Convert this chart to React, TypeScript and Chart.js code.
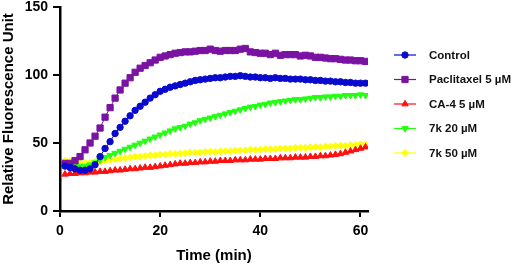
import React, { useEffect, useRef } from "react";
import { Chart, registerables } from "chart.js";
import { drawPoint } from "chart.js/helpers";

Chart.register(...registerables);

const timeMin = [
  1, 2, 3, 4, 5, 6, 7, 8, 9, 10, 11, 12, 13, 14, 15, 16, 17, 18, 19, 20,
  21, 22, 23, 24, 25, 26, 27, 28, 29, 30, 31, 32, 33, 34, 35, 36, 37, 38, 39, 40,
  41, 42, 43, 44, 45, 46, 47, 48, 49, 50, 51, 52, 53, 54, 55, 56, 57, 58, 59, 60, 61,
];

const control = [
  33, 32, 31, 30, 30, 31, 34, 40, 46, 51, 57, 61.5, 66, 70, 74, 77, 80, 83, 85.5, 88,
  89.5, 91, 92, 93, 94, 95, 96, 96.5, 97, 97.5, 98, 98, 98.5, 99, 99, 99.5, 99, 98.5, 98.5, 98,
  98, 97.5, 98, 97.5, 97.5, 97, 97, 97, 96.5, 96.5, 96, 96, 95.5, 95.5, 95, 95, 94.5, 94.5, 94, 94, 94,
];

const paclitaxel = [
  35, 35, 37, 40, 45, 50, 55, 61, 69, 76, 83, 89, 94, 98, 102, 105, 107, 109, 111, 113,
  114, 115, 116, 116.5, 117, 117, 117.5, 118, 118, 119, 118, 117.5, 118, 118, 118, 119, 119.5, 117, 116.5, 116,
  116, 115, 116, 114.5, 115, 115, 115, 114, 114.5, 114, 113, 113, 112.5, 112, 112, 111.5, 111, 111, 110.5, 110.5, 110,
];

const ca4 = [
  27, 27.5, 27.5, 28, 28, 28.5, 28.5, 29, 29, 29.5, 30, 30, 30.5, 31, 31, 31.5, 32, 32, 32.5, 33,
  33.5, 34, 34.5, 35, 35, 35.5, 35.5, 36, 36, 36.5, 36.5, 37, 37, 37, 37.5, 37.5, 37.5, 38, 38, 38,
  38.5, 38.5, 38.5, 39, 39, 39, 39.5, 39.5, 39.5, 40, 40, 40.5, 40.5, 41, 41.5, 42, 43, 44, 45, 46, 47,
];

const k7_20 = [
  34, 34, 33.5, 33, 33, 34, 35.5, 37.5, 39.5, 41, 42.5, 44, 45.5, 47, 48.5, 50, 51.5, 53, 54.5, 56,
  57.5, 59, 60.5, 61.5, 62.5, 64, 65, 66.5, 67.5, 68.5, 69.5, 70.5, 71.5, 72.5, 73.5, 74.5, 75.5, 76.5, 77, 78,
  78.5, 79.5, 80, 80.5, 81, 81.5, 82, 82, 82.5, 83, 83.5, 83.5, 84, 84, 84.5, 84.5, 85, 85, 85, 85.5, 85,
];

const k7_50 = [
  37, 36.5, 36, 35.5, 35.5, 35.5, 36, 36.5, 37, 37.5, 38, 38.5, 39, 39.5, 40, 40, 40.5, 41, 41, 41.5,
  41.5, 42, 42, 42.5, 42.5, 43, 43, 43, 43.5, 43.5, 43.5, 44, 44, 44, 44.5, 44.5, 44.5, 45, 45, 45,
  45.5, 45.5, 45.5, 46, 46, 46, 46.5, 46.5, 46.5, 47, 47, 47, 47.5, 47.5, 48, 48, 48, 48.5, 48.5, 49, 49,
];

const seriesLabels = ["Control", "Paclitaxel 5 µM", "CA-4 5 µM", "7k 20 µM", "7k 50 µM"];
const seriesValues = [control, paclitaxel, ca4, k7_20, k7_50];
const seriesColors = ["#0A0ACF", "#7A12A2", "#FF1010", "#22FF10", "#FFFF10"];
const seriesPointStyles = ["circle", "rect", "triangle", "triangle", "rectRot"];
const seriesPointRadius = [3.2, 4.4, 3.7, 3.7, 3.5];
const seriesRotation = [0, 0, 0, 180, 0];

const xTicks = [0, 20, 40, 60];
const yTicks = [0, 50, 100, 150];

const FONT = "'Liberation Sans', Arial, sans-serif";

const legendPlugin = {
  id: "sideLegend",
  afterDraw(chart: any) {
    const ctx = chart.ctx;
    ctx.save();
    chart.data.datasets.forEach((ds: any, i: number) => {
      const y = 55 + i * 24.5;
      ctx.strokeStyle = ds.borderColor;
      ctx.lineWidth = 1.2;
      ctx.beginPath();
      ctx.moveTo(394, y);
      ctx.lineTo(416, y);
      ctx.stroke();
      ctx.fillStyle = ds.pointBackgroundColor;
      ctx.strokeStyle = ds.pointBorderColor;
      ctx.lineWidth = 1;
      drawPoint(ctx, {
        pointStyle: ds.pointStyle,
        radius: ds.pointRadius,
        rotation: ds.pointRotation,
        borderWidth: 1,
      }, 405, y);
      ctx.fillStyle = "#111";
      ctx.font = `bold 11.5px ${FONT}`;
      ctx.textAlign = "left";
      ctx.textBaseline = "middle";
      ctx.fillText(ds.label, 429, y + 0.5);
    });
    ctx.restore();
  },
};

export default function App() {
  const ref = useRef<HTMLCanvasElement>(null);

  useEffect(() => {
    document.body.style.margin = "0";
    const canvas = ref.current!;
    const chart = new Chart(canvas, {
      type: "line",
      data: {
        datasets: seriesLabels.map((label, i) => ({
          label,
          data: timeMin.map((t, j) => ({ x: t, y: seriesValues[i][j] })),
          borderColor: seriesColors[i],
          backgroundColor: seriesColors[i],
          pointBackgroundColor: seriesColors[i],
          pointBorderColor: seriesColors[i],
          pointStyle: seriesPointStyles[i] as any,
          pointRadius: seriesPointRadius[i],
          pointRotation: seriesRotation[i],
          pointBorderWidth: 1,
          borderWidth: 1,
          tension: 0,
          fill: false,
        })),
      },
      options: {
        animation: false,
        responsive: false,
        maintainAspectRatio: false,
        layout: { padding: { top: 7, right: 144, left: 0, bottom: 0 } },
        plugins: {
          legend: { display: false },
          tooltip: { enabled: false },
        },
        scales: {
          x: {
            type: "linear",
            min: 0,
            max: 61.5,
            afterBuildTicks: (scale: any) => {
              scale.ticks = xTicks.map((v) => ({ value: v }));
            },
            afterFit: (scale: any) => {
              scale.height = 54;
              scale.paddingLeft = 0;
              scale.paddingRight = 0;
            },
            grid: {
              drawOnChartArea: false,
              drawTicks: true,
              tickLength: 6,
              color: "#000",
              lineWidth: 2,
            },
            border: { display: true, color: "#000", width: 2.5 },
            ticks: {
              color: "#000",
              padding: 6,
              font: { family: FONT, size: 14, weight: "bold" },
            },
            title: {
              display: true,
              text: "Time (min)",
              color: "#000",
              padding: 0,
              font: { family: FONT, size: 15, weight: "bold" },
            },
          },
          y: {
            type: "linear",
            min: 0,
            max: 150,
            afterBuildTicks: (scale: any) => {
              scale.ticks = yTicks.map((v) => ({ value: v }));
            },
            afterFit: (scale: any) => {
              scale.width = 60;
              scale.paddingTop = 0;
              scale.paddingBottom = 0;
            },
            grid: {
              drawOnChartArea: false,
              drawTicks: true,
              tickLength: 7,
              color: "#000",
              lineWidth: 2,
            },
            border: { display: true, color: "#000", width: 2.5 },
            ticks: {
              color: "#000",
              padding: 5,
              font: { family: FONT, size: 14, weight: "bold", lineHeight: 1 },
            },
            title: {
              display: true,
              text: "Relative Fluorescence Unit",
              color: "#000",
              padding: 0,
              font: { family: FONT, size: 15, weight: "bold" },
            },
          },
        },
      },
      plugins: [legendPlugin],
    });
    return () => chart.destroy();
  }, []);

  return (
    <div style={{ width: 512, height: 265 }}>
      <canvas ref={ref} width={512} height={265} style={{ display: "block" }} />
    </div>
  );
}
